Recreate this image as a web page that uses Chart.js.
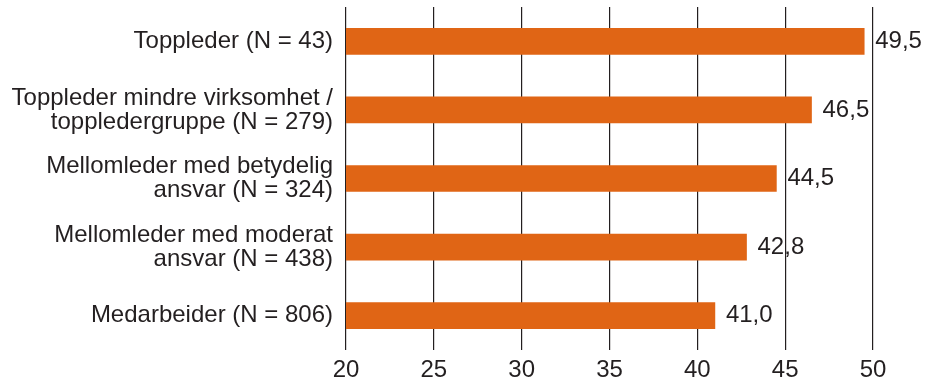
<!DOCTYPE html>
<html>
<head>
<meta charset="utf-8">
<script src="https://cdn.jsdelivr.net/npm/chart.js@4"></script>
<style>
  html, body { margin: 0; padding: 0; background: #fff; }
  #wrap { width: 925px; height: 381px; }
</style>
</head>
<body>
<div id="wrap"><canvas id="bar-canvas"></canvas></div>
<script>
const categories = [
  ["Toppleder (N = 43)"],
  ["Toppleder mindre virksomhet /", "toppledergruppe (N = 279)"],
  ["Mellomleder med betydelig", "ansvar (N = 324)"],
  ["Mellomleder med moderat", "ansvar (N = 438)"],
  ["Medarbeider (N = 806)"],
];
const values = [49.5, 46.5, 44.5, 42.8, 41.0];
const valueLabels = values.map((v) => v.toFixed(1).replace(".", ","));

const textColor = "#231f20";
const barColor = "#e06515";
const fontFamily = "'Liberation Sans', Arial, Helvetica, sans-serif";

// value labels to the right of each bar
const barLabels = {
  id: "barLabels",
  afterDatasetsDraw: (chart) => {
    const ctx = chart.ctx;
    const meta = chart.getDatasetMeta(0);
    ctx.save();
    ctx.font = `24px ${fontFamily}`;
    ctx.fillStyle = textColor;
    ctx.textAlign = "left";
    ctx.textBaseline = "middle";
    meta.data.forEach((bar, i) => {
      ctx.fillText(valueLabels[i], bar.x + 11, bar.y);
    });
    ctx.restore();
  },
};

new Chart(document.getElementById("bar-canvas"), {
  type: "bar",
  data: {
    labels: categories,
    datasets: [
      {
        data: values,
        backgroundColor: barColor,
        borderWidth: 0,
        barThickness: 26,
      },
    ],
  },
  options: {
    indexAxis: "y",
    responsive: true,
    maintainAspectRatio: false,
    animation: false,
    layout: {
      padding: { top: 7, right: 52, bottom: 0, left: 0 },
    },
    plugins: {
      legend: { display: false },
      tooltip: { enabled: false },
    },
    scales: {
      x: {
        min: 20,
        max: 50,
        ticks: {
          stepSize: 5,
          padding: 6,
          color: textColor,
          font: { family: fontFamily, size: 24 },
        },
        grid: {
          color: textColor,
          lineWidth: 1.2,
          drawTicks: false,
        },
        border: { display: false },
        afterFit: (scale) => {
          scale.height = 31;
        },
      },
      y: {
        ticks: {
          padding: 13,
          color: textColor,
          font: { family: fontFamily, size: 24, lineHeight: "24px" },
        },
        grid: { display: false, drawTicks: false },
        border: { display: false },
        afterFit: (scale) => {
          scale.width = 346;
          scale.paddingTop = 0;
          scale.paddingBottom = 0;
        },
      },
    },
  },
  plugins: [barLabels],
});
</script>
</body>
</html>
